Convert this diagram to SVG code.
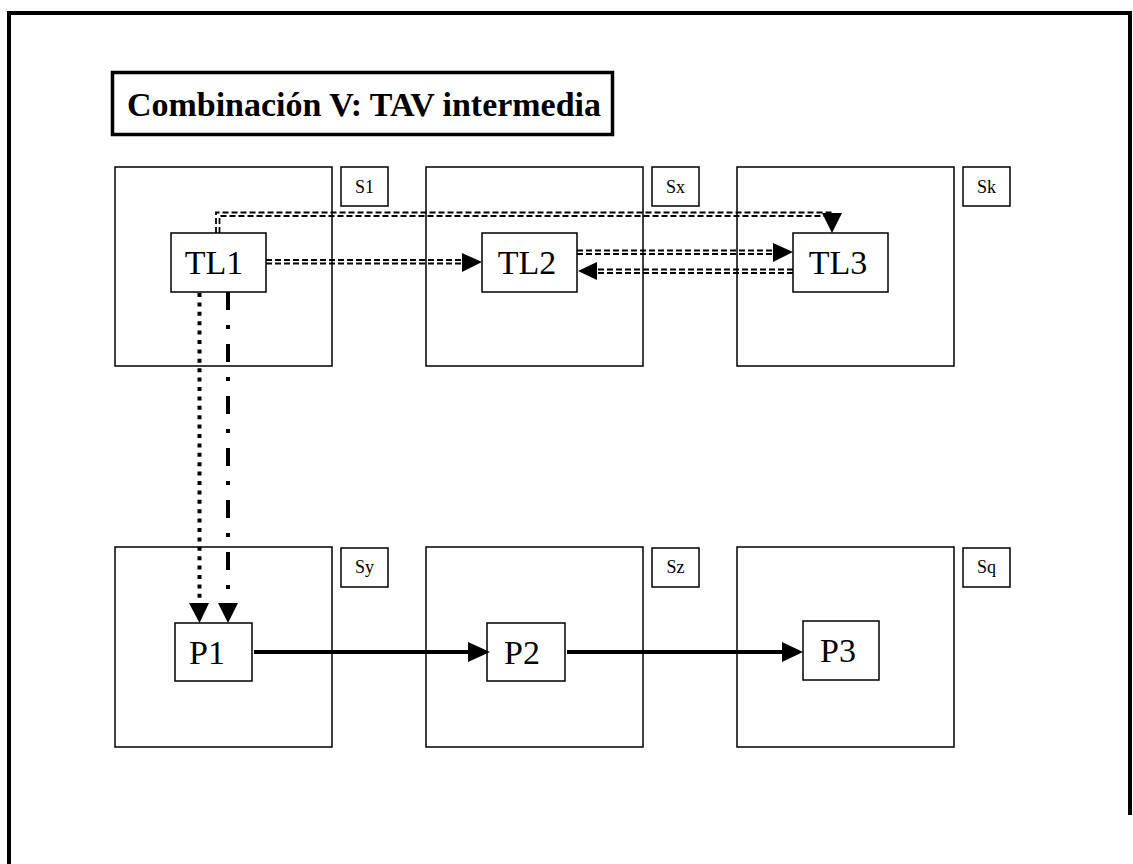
<svg xmlns="http://www.w3.org/2000/svg" width="1133" height="864" viewBox="0 0 1133 864">
<defs>
<style>
.box{fill:#fff;stroke:#000;stroke-width:1.5}
.lbl{font-family:"Liberation Serif",serif;font-size:18px;text-anchor:middle;fill:#000}
.big{font-family:"Liberation Serif",serif;font-size:34px;text-anchor:middle;fill:#000}
.dd{fill:none;stroke:#000;stroke-width:1.8;stroke-dasharray:6 3}
.dot{fill:none;stroke:#000;stroke-width:4;stroke-dasharray:4 5.4}
.dashdot{fill:none;stroke:#000;stroke-width:4;stroke-dasharray:18 15 4 15}
.solid{fill:none;stroke:#000;stroke-width:4}
.head{fill:#000}
</style>
</defs>
<rect width="1133" height="864" fill="#fff"/>
<path d="M9,864 V13 H1130 V815" fill="none" stroke="#000" stroke-width="4"/>
<g id="title">
<rect x="112.5" y="72.5" width="500" height="62" fill="#fff" stroke="#000" stroke-width="3.5"/>
<text x="364" y="116" font-family="Liberation Serif,serif" font-size="33" font-weight="bold" text-anchor="middle" textLength="474" lengthAdjust="spacingAndGlyphs">Combinación V: TAV intermedia</text>
</g>
<g id="S1"><rect class="box" x="115" y="167" width="217" height="199"/><rect class="box" x="341" y="167" width="47" height="39"/><text class="lbl" x="364.5" y="193">S1</text></g>
<g id="Sx"><rect class="box" x="426" y="167" width="217" height="199"/><rect class="box" x="652" y="167" width="47" height="39"/><text class="lbl" x="675.5" y="193">Sx</text></g>
<g id="Sk"><rect class="box" x="737" y="167" width="217" height="199"/><rect class="box" x="963" y="167" width="47" height="39"/><text class="lbl" x="986.5" y="193">Sk</text></g>
<g id="Sy"><rect class="box" x="115" y="547" width="217" height="200"/><rect class="box" x="341" y="548" width="47" height="39"/><text class="lbl" x="364.5" y="573">Sy</text></g>
<g id="Sz"><rect class="box" x="426" y="547" width="217" height="200"/><rect class="box" x="652" y="548" width="47" height="39"/><text class="lbl" x="675.5" y="573">Sz</text></g>
<g id="Sq"><rect class="box" x="737" y="547" width="217" height="200"/><rect class="box" x="963" y="548" width="47" height="39"/><text class="lbl" x="986.5" y="573">Sq</text></g>
<g id="TL1"><rect class="box" x="171" y="233" width="95" height="59"/><text class="big" x="214" y="274">TL1</text></g>
<g id="TL2"><rect class="box" x="482" y="233" width="95" height="59"/><text class="big" x="527" y="274">TL2</text></g>
<g id="TL3"><rect class="box" x="793" y="233" width="95" height="59"/><text class="big" x="838" y="274">TL3</text></g>
<g id="P1"><rect class="box" x="175" y="623" width="77" height="58"/><text class="big" x="207" y="664">P1</text></g>
<g id="P2"><rect class="box" x="487" y="623" width="78" height="58"/><text class="big" x="522" y="664">P2</text></g>
<g id="P3"><rect class="box" x="803" y="621" width="76" height="59"/><text class="big" x="838" y="662">P3</text></g>
<g id="connectors">
<path class="dd" d="M216,233 V212.5 H834"/>
<path class="dd" d="M219.5,233 V216 H830"/>
<polygon class="head" points="822,213 842,213 832,233"/>
<path class="dd" d="M266,260 H464"/>
<path class="dd" d="M266,263.5 H464"/>
<polygon class="head" points="462,253 482,262 462,272"/>
<path class="dd" d="M577,250.5 H775"/>
<path class="dd" d="M577,254 H775"/>
<polygon class="head" points="773,243 793,252 773,262"/>
<path class="dd" d="M793,269.5 H595"/>
<path class="dd" d="M793,273 H595"/>
<polygon class="head" points="597,262 578,271 597,280"/>
<path class="dot" d="M199.5,293 V603"/>
<polygon class="head" points="189,603 209,603 199.5,623"/>
<path class="dashdot" d="M228,292 V603"/>
<polygon class="head" points="218,603 238,603 228,623"/>
<path class="solid" d="M254,652 H470"/>
<polygon class="head" points="468,642 490,652 468,662"/>
<path class="solid" d="M567,652 H784"/>
<polygon class="head" points="782,642 803,652 782,662"/>
</g>
</svg>
